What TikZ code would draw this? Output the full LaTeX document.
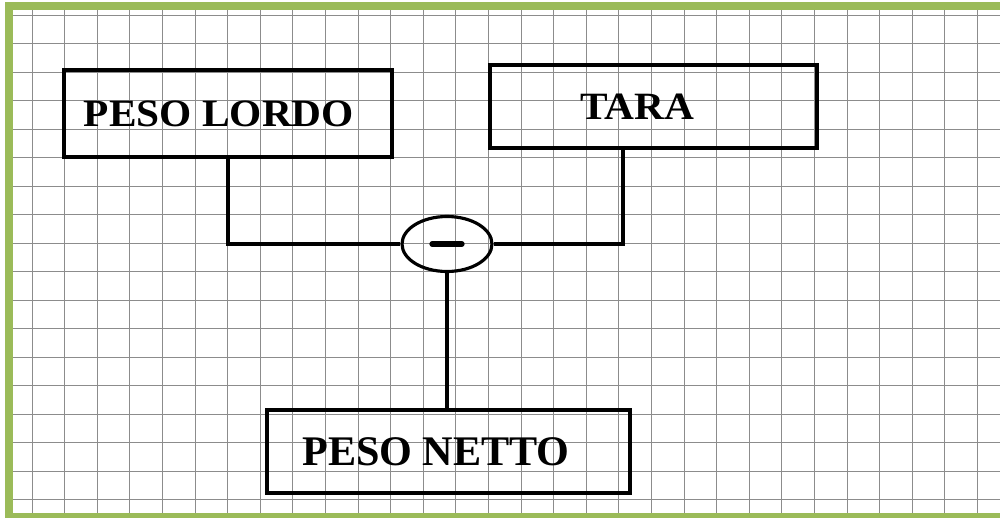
\documentclass[tikz,border=0pt]{standalone}
\usepackage{fontspec}
\setmainfont{Liberation Serif}
\newfontfamily\boxfont[FakeStretch=1.07]{Liberation Serif}
\usetikzlibrary{shapes.geometric}
\definecolor{framegreen}{RGB}{155,187,89}

\begin{document}
\begin{tikzpicture}[x=0.02cm,y=-0.02cm,
  box/.style={draw,line width=2.1pt,inner sep=0pt,font=\boxfont\fontsize{22}{25}\selectfont\bfseries},
  gridline/.style={black!45,line width=0.45pt},
  link/.style={line width=2pt}]

\useasboundingbox (0,0) rectangle (1000,517);
\begin{scope}
\clip (9,6) rectangle (1000,517);
\foreach \k in {0,...,29} \draw[gridline] ({32+32.6*\k},6) -- ({32+32.6*\k},517);
\foreach \k in {0,...,17} \draw[gridline] (9,{15+28.5*\k}) -- (1000,{15+28.5*\k});
\end{scope}
\draw[framegreen,line width=4.5pt] (1010,6) -- (9,6) -- (9,517) -- (1010,517);

\node[box,minimum width=6.56cm,minimum height=1.74cm](lordo) at (228,113.5){PESO LORDO\hspace*{0.36cm}};
\node[box,minimum width=6.54cm,minimum height=1.66cm](tara) at (653.5,106.5){TARA\hspace*{0.64cm}};
\node[ellipse,draw,line width=1.8pt,minimum width=1.8cm,minimum height=1.1cm,inner sep=0pt](op) at (447,244){};
\node[box,minimum width=7.26cm,minimum height=1.66cm,font=\fontsize{24}{28}\selectfont\bfseries](netto) at (448.5,451.5){PESO NETTO\hspace*{0.5cm}};

\draw[line width=3pt,line cap=round] ([xshift=-0.3cm]op.center) -- ([xshift=0.3cm]op.center);

\path[link]
  (lordo.south) edge[to path={|- (\tikztotarget)}] (op.west)
  ([xshift=-0.61cm]tara.south) edge[to path={|- (\tikztotarget)}] (op.east)
  (op.south) edge (op.south |- netto.north);

\end{tikzpicture}
\end{document}
